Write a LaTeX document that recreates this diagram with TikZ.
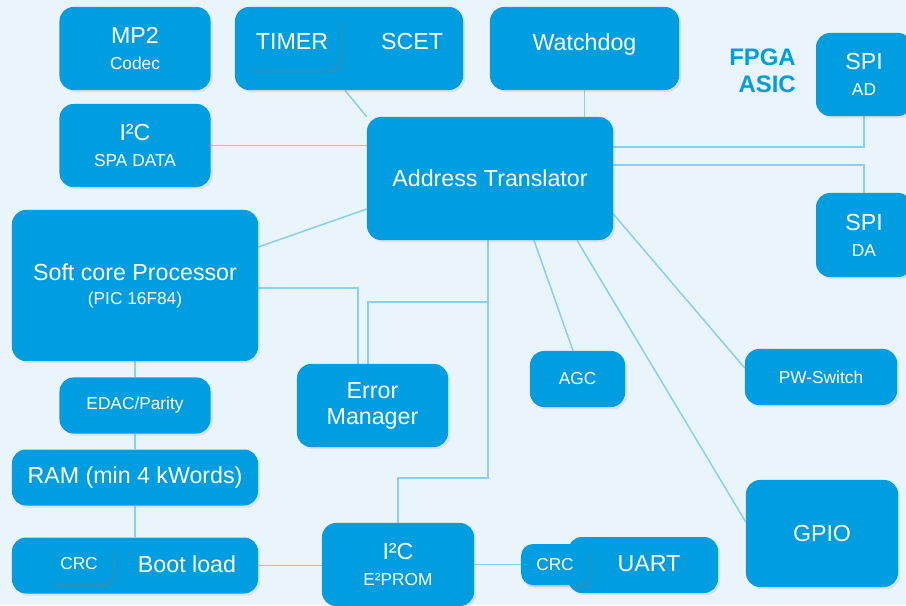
\documentclass[tikz,border=0pt]{standalone}
\usepackage{fontspec}
\setmainfont{Liberation Sans}
\usetikzlibrary{calc,shadows,backgrounds}
\definecolor{boxblue}{RGB}{0,158,224}
\definecolor{wireblue}{RGB}{140,208,240}
\definecolor{paper}{RGB}{234,244,251}
\newcommand\bigtxt{\fontsize{16.5}{18.5}\selectfont}
\newcommand\smalltxt{\fontsize{12.3}{14}\selectfont}

\begin{document}
\begin{tikzpicture}[x=0.025cm, y=-0.025cm]
\tikzstyle{block} = [rectangle, rounded corners=0.35cm, minimum width=3.775cm, minimum height=2.075cm, inner sep=0pt, align=center, fill=boxblue, text=white, font=\bigtxt, drop shadow={shadow xshift=1.5pt, shadow yshift=-1.5pt, opacity=0.15}]
\tikzstyle{flat} = [block, minimum height=1.4cm]
\tikzstyle{chip} = [block, rounded corners=0.3cm, minimum width=1.7cm, minimum height=1.025cm, font=\smalltxt,
  drop shadow={shadow xshift=0.6pt, shadow yshift=-0.8pt, opacity=0.1},
  drop shadow={shadow xshift=1.4pt, shadow yshift=-1.8pt, opacity=0.08},
  drop shadow={shadow xshift=2.2pt, shadow yshift=-2.8pt, opacity=0.05}]
\tikzstyle{tag} = [text=white, font=\bigtxt]
\tikzstyle{wire} = [line width=1.1pt, draw=wireblue]
%
\useasboundingbox (0,0) rectangle (906,605);
%
\node (1)   [block] at (135,48.5)                                        {MP2\\{\smalltxt Codec}};
\node (2)   [block, minimum width=5.7cm] at (349,48.5)                   {};
\node (2a)  [chip, minimum width=2.4cm, minimum height=1.4cm, font=\bigtxt] at (292,42) {TIMER};
\node (2b)  [tag] at (412,42)                                            {SCET};
\node (3)   [block, minimum width=4.725cm, label={[tag, yshift=3pt]center:Watchdog}] at (584.5,48.5) {};
\node (4)   [block, minimum width=2.4cm] at (864,74.5)                   {SPI\\{\smalltxt AD}};
\node (5)   [anchor=east, inner sep=0pt, align=right, text=boxblue, font=\fontsize{17}{19.2}\selectfont\bfseries] at (796,71) {FPGA\\ASIC};
\node (6)   [block] at (135,145.5)                                       {I²C\\{\smalltxt SPA DATA}};
\node (7)   [block, minimum width=6.15cm, minimum height=3.075cm] at (490,178.5) {Address Translator};
\node (8)   [block, minimum width=2.4cm, minimum height=2.1cm] at (864,235) {SPI\\{\smalltxt DA}};
\node (9)   [block, minimum width=6.15cm, minimum height=3.775cm] at (135,285.5) {Soft core Processor\\[-1.5pt]{\smalltxt (PIC 16F84)}};
\node (10)  [block] at (372.5,405.5)                                     {Error\\Manager};
\node (11)  [flat, minimum width=2.375cm, font=\smalltxt] at (577.5,379) {AGC};
\node (12)  [flat, minimum width=3.8cm, font=\smalltxt] at (821,377)     {PW-Switch};
\node (13)  [flat, font=\smalltxt] at (135,405.5)                        {EDAC/Parity};
\node (14)  [flat, minimum width=6.15cm] at (135,477.5)                  {RAM (min 4 kWords)};
\node (15)  [block, minimum width=3.8cm, minimum height=2.675cm] at (822,533.5) {GPIO};
\node (16)  [flat, minimum width=6.15cm] at (135,565.5)                  {};
\node (16a) [chip] at (79,563.5)                                         {CRC};
\node (16b) [tag] at (187,564)                                           {Boot load};
\node (17)  [block, minimum width=3.8cm] at (398,564.5)                  {I²C\\{\smalltxt E²PROM}};
\node (18)  [flat, minimum width=3.75cm] at (643,565)                    {};
\node (18b) [tag] at (649,564)                                           {UART};
\node (19)  [chip] at (555,564.5)                                        {CRC};
%
\coordinate (c1) at (488,302);
\coordinate (c2) at (488,478);
%
\begin{scope}[on background layer]
\fill [paper] (0,0) rectangle (906,605);
\draw [wire] ($(2.south)+(-4,0)$) -- (7.north west);
\draw [wire] (6.east) -- (6.east -| 7.west);
\draw [wire] (3.south) -- (3.south |- 7.north);
\draw [wire] ($(7.east)+(0,-31.5)$) -| (4.south);
\draw [wire] ($(7.east)+(0,-13.5)$) -| (8.north);
\draw [wire] ($(9.east)+(0,-38.5)$) -- ($(7.west)+(0,30.5)$);
\draw [wire] ($(9.east)+(0,2.5)$) -| ($(10.north)+(-14.5,0)$);
\draw [wire] (7.south -| c1) -- (c2) -| (17.north);
\draw [wire] (c1) -| ($(10.north)+(-4.5,0)$);
\draw [wire] ($(7.south)+(44,0)$) -- ($(11.north)+(-4.5,0)$);
\draw [wire] ($(7.south)+(87,0)$) -- ($(15.west)+(0,-11.5)$);
\draw [wire] ($(7.east)+(0,35.5)$) -- ($(12.west)+(0,-9)$);
\draw [wire] (9.south) -- (13.north);
\draw [wire] (13.south) -- (14.north);
\draw [wire] (14.south) -- (16.north);
\draw [wire] (16.east) -- (16.east -| 17.west);
\draw [wire] (17.east) -- (19.west);
\end{scope}
\end{tikzpicture}
\end{document}
